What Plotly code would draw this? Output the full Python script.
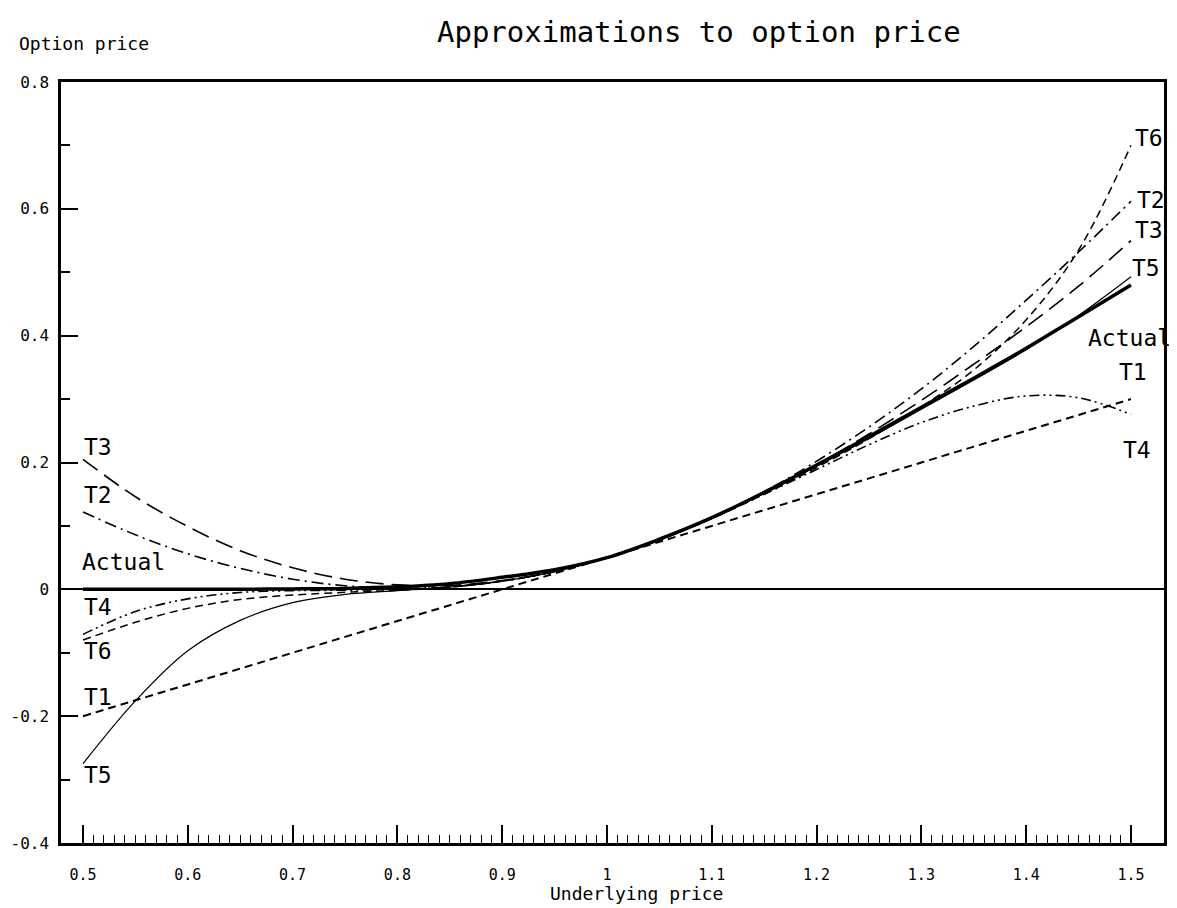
import plotly.graph_objects as go

# ---------------- data ----------------
underlying = [0.5, 0.55, 0.6, 0.65, 0.7, 0.75, 0.8, 0.85, 0.9, 0.95, 1.0,
              1.05, 1.1, 1.15, 1.2, 1.25, 1.3, 1.35, 1.4, 1.45, 1.5]

actual = [0.0, 0.0, 0.0001, 0.0002, 0.0006, 0.0015, 0.004, 0.009, 0.019, 0.031, 0.05,
          0.079, 0.113, 0.153, 0.196, 0.241, 0.287, 0.333, 0.38, 0.43, 0.48]
t1 = [-0.2, -0.175, -0.15, -0.125, -0.1, -0.075, -0.05, -0.025, 0.0, 0.025, 0.05,
      0.075, 0.1, 0.125, 0.15, 0.175, 0.2, 0.225, 0.25, 0.275, 0.3]
t2 = [0.122, 0.086, 0.056, 0.033, 0.016, 0.0056, 0.002, 0.004, 0.013, 0.028, 0.05,
      0.078, 0.113, 0.154, 0.202, 0.256, 0.316, 0.383, 0.456, 0.532, 0.612]
t3 = [0.205, 0.146, 0.099, 0.061, 0.034, 0.016, 0.007, 0.006, 0.014, 0.028, 0.05,
      0.078, 0.112, 0.152, 0.196, 0.245, 0.298, 0.355, 0.414, 0.478, 0.55]
t4 = [-0.071, -0.035, -0.015, -0.005, -0.002, -0.0014, 0.0, 0.004, 0.013, 0.028, 0.05,
      0.078, 0.112, 0.15, 0.189, 0.228, 0.263, 0.289, 0.305, 0.302, 0.276]
t5 = [-0.275, -0.176, -0.097, -0.049, -0.021, -0.008, -0.002, 0.0035, 0.013, 0.028, 0.05,
      0.078, 0.112, 0.151, 0.194, 0.238, 0.284, 0.330, 0.378, 0.432, 0.493]
t6 = [-0.08, -0.052, -0.03, -0.016, -0.009, -0.0047, -0.0015, 0.0036, 0.013, 0.028, 0.05,
      0.078, 0.112, 0.15, 0.192, 0.2375, 0.288, 0.346, 0.425, 0.535, 0.70]

x_tick_vals = [0.5, 0.6, 0.7, 0.8, 0.9, 1.0, 1.1, 1.2, 1.3, 1.4, 1.5]
x_tick_text = ["0.5", "0.6", "0.7", "0.8", "0.9", "1", "1.1", "1.2", "1.3", "1.4", "1.5"]
y_tick_vals = [-0.4, -0.2, 0.0, 0.2, 0.4, 0.6, 0.8]
y_tick_text = ["-0.4", "-0.2", "0", "0.2", "0.4", "0.6", "0.8"]
y_minor_vals = [-0.3, -0.1, 0.1, 0.3, 0.5, 0.7]
x_minor_vals = [round(0.5 + 0.01 * i, 2) for i in range(1, 100) if i % 10 != 0]

# curve labels (left end / right end)
left_names = ["T3", "T2", "Actual", "T4", "T6", "T1", "T5"]
left_x = [0.499, 0.499, 0.497, 0.499, 0.499, 0.499, 0.499]
left_y = [0.224, 0.148, 0.043, -0.028, -0.098, -0.170, -0.293]
right_names = ["T6", "T2", "T3", "T5", "Actual", "T1", "T4"]
right_x = [1.502, 1.504, 1.502, 1.499, 1.457, 1.487, 1.49]
right_y = [0.711, 0.614, 0.566, 0.506, 0.396, 0.342, 0.219]

FONT = "DejaVu Sans Mono"

styles = [
    ("T1", t1, dict(width=2.0, dash="8px,5px")),
    ("T2", t2, dict(width=1.6, dash="12px,5px,2px,5px")),
    ("T3", t3, dict(width=1.6, dash="18px,8px")),
    ("T4", t4, dict(width=1.6, dash="10px,4px,2px,4px,2px,4px")),
    ("T6", t6, dict(width=1.5, dash="8px,5px")),
    ("T5", t5, dict(width=1.2, dash="solid")),
    ("Actual", actual, dict(width=3.5, dash="solid")),
]

fig = go.Figure()
for name, ys, ln in styles:
    fig.add_trace(go.Scatter(
        x=underlying, y=ys, mode="lines", name=name, showlegend=False,
        line=dict(color="black", shape="spline", smoothing=1.0, **ln),
    ))

annotations = []
for n, xx, yy in zip(left_names, left_x, left_y):
    annotations.append(dict(x=xx, y=yy, xref="x", yref="y", text=n, showarrow=False,
                            xanchor="left", yanchor="middle",
                            font=dict(family=FONT, size=23, color="black")))
for n, xx, yy in zip(right_names, right_x, right_y):
    annotations.append(dict(x=xx, y=yy, xref="x", yref="y", text=n, showarrow=False,
                            xanchor="left", yanchor="middle",
                            font=dict(family=FONT, size=23, color="black")))

annotations.append(dict(x=-0.04, y=1.051, xref="paper", yref="paper", text="Option price",
                        showarrow=False, xanchor="left", yanchor="middle",
                        font=dict(family=FONT, size=18, color="black")))
annotations.append(dict(x=0.522, y=-0.066, xref="paper", yref="paper", text="Underlying price",
                        showarrow=False, xanchor="center", yanchor="middle",
                        font=dict(family=FONT, size=18, color="black")))

fig.update_layout(
    width=1169, height=900,
    margin=dict(l=53, r=13, t=74, b=65, autoexpand=False),
    paper_bgcolor="white", plot_bgcolor="white",
    title=dict(text="Approximations to option price", xref="container", yref="container",
               x=0.591, xanchor="center", y=0.9733, yanchor="middle",
               font=dict(family=FONT, size=29, color="black")),
    annotations=annotations,
    xaxis=dict(
        range=[0.479, 1.5315], showgrid=False, zeroline=False, automargin=False,
        showline=True, linecolor="black", linewidth=2.5, mirror=True,
        ticks="inside", ticklen=18, tickwidth=1.5, tickcolor="black",
        tickmode="array", tickvals=x_tick_vals, ticktext=x_tick_text,
        tickfont=dict(family=FONT, size=15, color="black"),
        ticklabelstandoff=16,
        minor=dict(tickmode="array", tickvals=x_minor_vals, ticks="inside",
                   ticklen=8, tickwidth=1, tickcolor="black", showgrid=False),
    ),
    yaxis=dict(
        range=[-0.4, 0.8], showgrid=False, automargin=False,
        zeroline=True, zerolinecolor="black", zerolinewidth=2.2,
        showline=True, linecolor="black", linewidth=2.5, mirror=True,
        ticks="inside", ticklen=17, tickwidth=1.5, tickcolor="black",
        tickmode="array", tickvals=y_tick_vals, ticktext=y_tick_text,
        tickfont=dict(family=FONT, size=16, color="black"),
        ticklabelstandoff=6,
        minor=dict(tickmode="array", tickvals=y_minor_vals, ticks="inside",
                   ticklen=9, tickwidth=1.5, tickcolor="black", showgrid=False),
    ),
)

fig.write_html("out.html")
